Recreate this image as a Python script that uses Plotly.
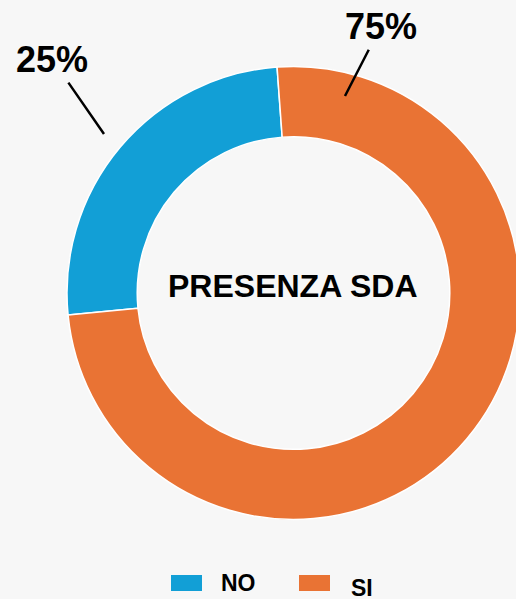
import plotly.graph_objects as go

# ---- data ----
categories = ["NO", "SI"]
values = [25.4, 74.6]
colors = ["#129fd6", "#e97334"]
center_title = "PRESENZA SDA"

# ---- layout constants (pixels; canvas slightly wider than window so the ring is clipped at right) ----
W, H = 521, 599
FONT = "Liberation Sans, Arial, Helvetica, sans-serif"
CX, CY, R = 293.5, 293, 226.5

def px(x, y):
    return x / W, 1 - y / H

total = sum(values)
pcts = [round(100 * v / total) for v in values]

fig = go.Figure(
    go.Pie(
        labels=categories,
        values=values,
        hole=0.69,
        sort=False,
        direction="counterclockwise",
        rotation=-95.6,
        marker=dict(colors=colors, line=dict(color="white", width=1.5)),
        textinfo="none",
        hoverinfo="label+percent",
        showlegend=False,
        domain=dict(x=[(CX - R) / W, (CX + R) / W], y=[(H - CY - R) / H, (H - CY + R) / H]),
    )
)

annotations = []
# center title
x, y = px(293, 286)
annotations.append(dict(x=x, y=y, xref="paper", yref="paper", text="<b>%s</b>" % center_title,
                        showarrow=False, font=dict(family=FONT, size=32, color="#000000")))

# percentage labels with leader lines
label_place = {
    "NO": dict(head=(104, 134), text=(52, 59)),
    "SI": dict(head=(345, 96), text=(381, 26)),
}
for cat, p in zip(categories, pcts):
    hx, hy = label_place[cat]["head"]
    tx, ty = label_place[cat]["text"]
    x, y = px(hx, hy)
    annotations.append(dict(x=x, y=y, xref="paper", yref="paper", text="<b>%d%%</b>" % p,
                            showarrow=True, arrowhead=0, arrowwidth=2.5, arrowcolor="#000000",
                            ax=tx - hx, ay=ty - hy, startstandoff=2,
                            font=dict(family=FONT, size=36, color="#000000")))

# legend (swatches + labels)
legend_place = [
    dict(sw=(171, 575, 202, 591), txt=(219, 583)),
    dict(sw=(299, 575, 330, 591), txt=(349, 588)),
]
shapes = []
for cat, col, lp in zip(categories, colors, legend_place):
    x0, y0, x1, y1 = lp["sw"]
    shapes.append(dict(type="rect", xref="paper", yref="paper",
                       x0=x0 / W, x1=x1 / W, y0=1 - y1 / H, y1=1 - y0 / H,
                       fillcolor=col, line=dict(width=0)))
    x, y = px(*lp["txt"])
    annotations.append(dict(x=x, y=y, xref="paper", yref="paper", text="<b>%s</b>" % cat,
                            showarrow=False, xanchor="left", yanchor="middle",
                            font=dict(family=FONT, size=23, color="#000000")))

fig.update_layout(
    width=W, height=H,
    margin=dict(l=0, r=0, t=0, b=0),
    paper_bgcolor="#f7f7f7",
    plot_bgcolor="#f7f7f7",
    annotations=annotations,
    shapes=shapes,
    showlegend=False,
)

fig.write_html(
    "out.html",
    config={"displayModeBar": False},
    post_script="document.body.style.margin='0';document.body.style.overflow='hidden';",
)
